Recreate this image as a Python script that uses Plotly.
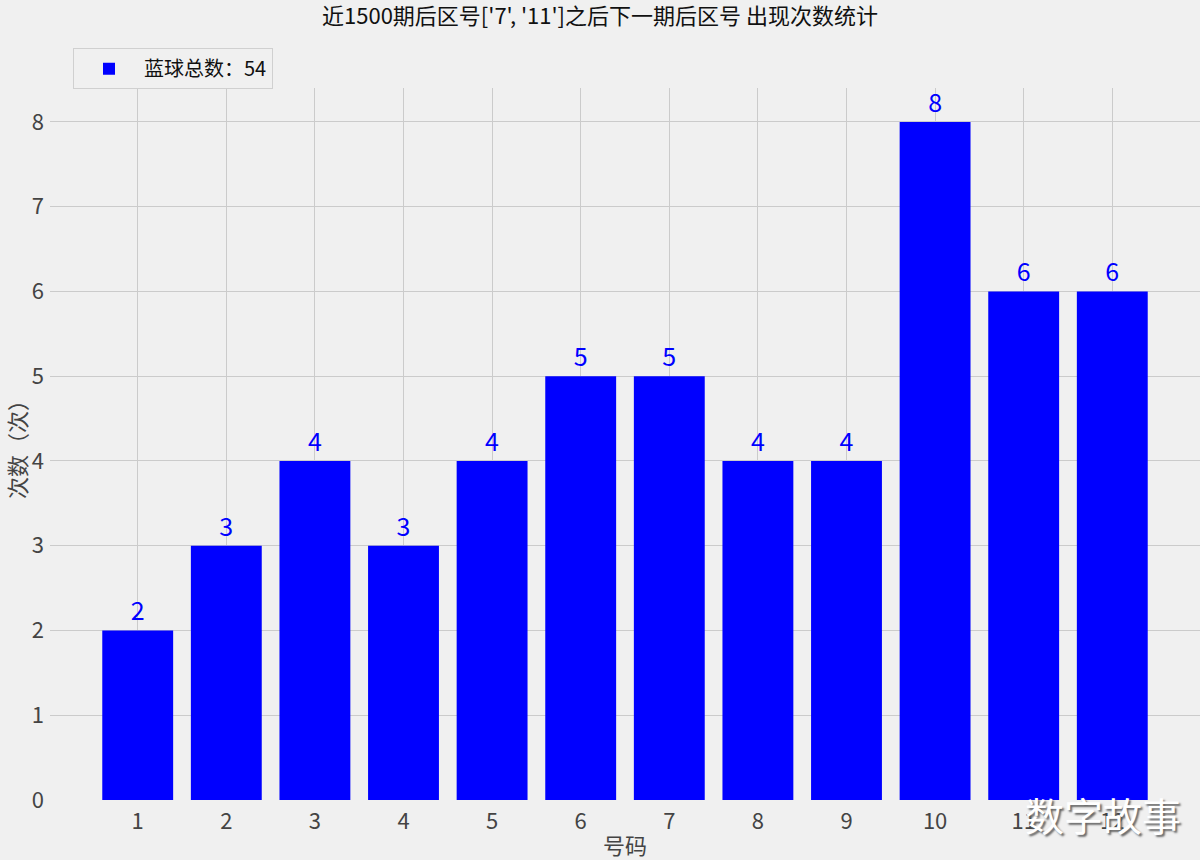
import plotly.graph_objects as go

categories = [1, 2, 3, 4, 5, 6, 7, 8, 9, 10, 11, 12]
counts = [2, 3, 4, 3, 4, 5, 5, 4, 4, 8, 6, 6]
title_text = "近1500期后区号['7', '11']之后下一期后区号 出现次数统计"
legend_name = "蓝球总数：54"
x_title = "号码"
y_title = "次数（次）"
watermark = "数字故事"

FONT = "Noto Sans CJK SC"

fig = go.Figure()
fig.add_trace(go.Bar(
    x=categories, y=counts, width=0.8,
    marker=dict(color="#0000ff", line=dict(width=0)),
    name=legend_name,
    text=[str(v) for v in counts], textposition="outside",
    textfont=dict(color="#0000ff", size=25, family=FONT),
    cliponaxis=False, showlegend=True,
))

fig.update_layout(
    width=1200, height=860,
    paper_bgcolor="#f0f0f0", plot_bgcolor="#f0f0f0",
    margin=dict(l=50, r=0, t=88, b=60),
    font=dict(family=FONT, color="#444444"),
    title=dict(text=title_text, x=0.5, xanchor="center", y=0.99, yanchor="top",
               font=dict(size=22, color="#111111", family=FONT)),
    showlegend=True,
    legend=dict(x=0.02, y=1.056, xanchor="left", yanchor="top",
                bgcolor="#f0f0f0", bordercolor="#d0d0d0", borderwidth=1,
                itemwidth=60,
                font=dict(size=20, color="#111111", family=FONT)),
    bargap=0.2,
)
fig.update_xaxes(range=[0.01, 12.99], tickmode="array", tickvals=categories,
                 ticktext=[str(c) for c in categories],
                 showgrid=True, gridcolor="#cbcbcb", gridwidth=1.2,
                 zeroline=False, showline=False, ticks="",
                 ticklabelstandoff=6,
                 tickfont=dict(size=22, color="#444444"),
                 title=dict(text=x_title, font=dict(size=22, color="#444444"), standoff=4))
fig.update_yaxes(range=[0, 8.4], tickmode="array", tickvals=list(range(0, 9)),
                 showgrid=True, gridcolor="#cbcbcb", gridwidth=1.2,
                 zeroline=False, showline=False, ticks="",
                 ticklabelstandoff=5,
                 tickfont=dict(size=22, color="#444444"),
                 title=dict(text=y_title, font=dict(size=22, color="#444444"), standoff=8))

fig.add_annotation(text=watermark, xref="paper", yref="paper", x=0.985, y=-0.02,
                   xanchor="right", yanchor="middle", showarrow=False,
                   font=dict(size=39, color="#ffffff", family=FONT,
                             shadow="2px 2px 2px #666666"))

fig.write_html("out.html", config={"displayModeBar": False},
               post_script="document.body.style.margin='0';document.body.style.background='#f0f0f0';")
